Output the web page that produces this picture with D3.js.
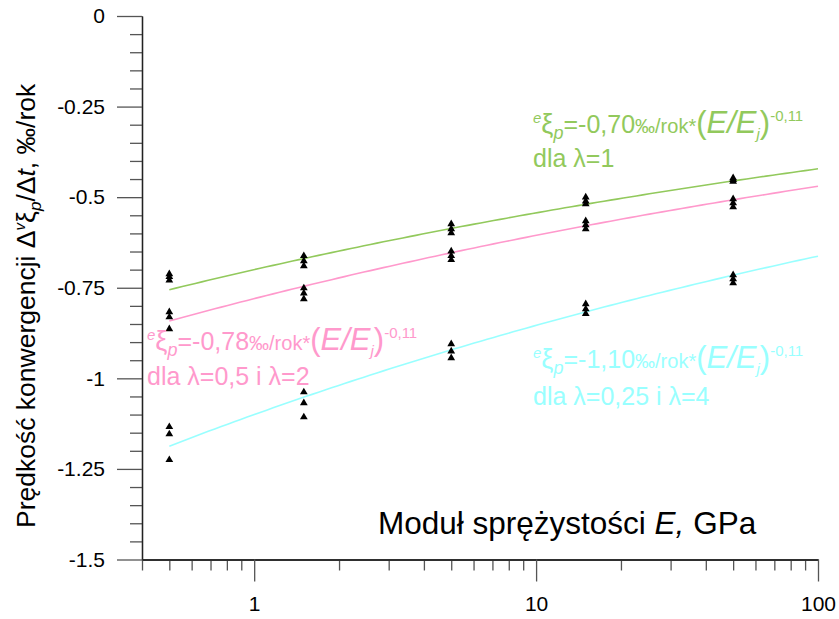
<!DOCTYPE html>
<html>
<head>
<meta charset="utf-8">
<script src="https://cdn.jsdelivr.net/npm/d3@7/dist/d3.min.js"></script>
<style>
  html, body { margin: 0; padding: 0; background: #fff; }
  svg { display: block; font-family: "Liberation Sans", Arial, sans-serif; }
</style>
</head>
<body>
<svg id="chart" width="839" height="619"></svg>
<script>
// Moduli of elasticity at which convergence rates were computed (GPa)
const modulusGPa = [0.5, 1.5, 5, 15, 50];

// Convergence rate samples, ‰/year, one inner list per modulus
const rateLambda1 = [
  [-0.712, -0.720, -0.729],
  [-0.662, -0.676, -0.690],
  [-0.574, -0.588, -0.599],
  [-0.500, -0.511, -0.519],
  [-0.447, -0.452, -0.457]
];
const rateLambda05and2 = [
  [-0.817, -0.831, -0.864],
  [-0.751, -0.765, -0.781],
  [-0.649, -0.662, -0.673],
  [-0.566, -0.577, -0.588],
  [-0.505, -0.516, -0.527]
];
const rateLambda025and4 = [
  [-1.134, -1.154, -1.225],
  [-1.038, -1.068, -1.107],
  [-0.905, -0.925, -0.944],
  [-0.795, -0.809, -0.822],
  [-0.715, -0.726, -0.737]
];

// Power-law fits: rate = coef * (E/Ej)^exp, Ej = 1 GPa
const fitCoef = [-0.70, -0.78, -1.10];
const fitExp = -0.11;
const fitRange = [0.5, 100];
const fitColors = ["#92c95c", "#ff99cc", "#99ffff"];

// Axis ticks
const yMajorTicks = [-1.5, -1.25, -1, -0.75, -0.5, -0.25, 0];
const yTickLabels = ["-1.5", "-1.25", "-1", "-0.75", "-0.5", "-0.25", "0"];
const xMajorTicks = [1, 10, 100];
const xTickLabels = ["1", "10", "100"];

const svg = d3.select("#chart");
const x = d3.scaleLog().domain([0.4, 100]).range([142, 818]);
const y = d3.scaleLinear().domain([-1.5, 0]).range([559.5, 16]);

// ---- axes ----
const yMinor = d3.range(-1.5, 0.0001, 0.05)
  .map(v => Math.round(v * 100) / 100)
  .filter(v => !yMajorTicks.includes(v));
const xMinor = [];
[0.1, 1, 10].forEach(dec => {
  for (let k = 2; k <= 9; k++) {
    const v = +(k * dec).toFixed(3);
    if (v >= 0.4 && !xMajorTicks.includes(v)) xMinor.push(v);
  }
});

function styleAxis(g) {
  g.select(".domain").attr("stroke", "#222").attr("stroke-width", 1.3);
  g.selectAll(".tick line").attr("stroke", "#555").attr("stroke-width", 1.3);
  g.selectAll(".tick text").attr("fill", "#000").attr("font-size", 21)
    .attr("font-family", "Liberation Sans, Arial, sans-serif");
}

svg.append("g").attr("transform", "translate(142,0)")
  .call(d3.axisLeft(y).tickValues(yMinor).tickSize(12).tickSizeOuter(0).tickFormat(""))
  .call(styleAxis);
svg.append("g").attr("transform", "translate(142,0)")
  .call(d3.axisLeft(y).tickValues(yMajorTicks).tickSize(25).tickSizeOuter(0).tickPadding(12)
    .tickFormat((d, i) => yTickLabels[i]))
  .call(styleAxis);

svg.append("g").attr("transform", "translate(0,559.5)")
  .call(d3.axisBottom(x).tickValues(xMinor).tickSize(11).tickSizeOuter(0).tickFormat(""))
  .call(styleAxis);
svg.append("g").attr("transform", "translate(0,559.5)")
  .call(d3.axisBottom(x).tickValues(xMajorTicks).tickSize(22).tickSizeOuter(0).tickPadding(15)
    .tickFormat((d, i) => xTickLabels[i]))
  .call(styleAxis);

// ---- fitted curves ----
const line = d3.line().x(d => x(d[0])).y(d => y(d[1]));
fitCoef.forEach((c, i) => {
  const lo = Math.log10(fitRange[0]), hi = Math.log10(fitRange[1]);
  const pts = d3.range(0, 101).map(k => {
    const e = Math.pow(10, lo + (hi - lo) * k / 100);
    return [e, c * Math.pow(e, fitExp)];
  });
  svg.append("path").datum(pts).attr("d", line)
    .attr("fill", "none").attr("stroke", fitColors[i]).attr("stroke-width", 1.6);
});

// ---- data points ----
const tri = d3.symbol().type(d3.symbolTriangle).size(26);
[rateLambda1, rateLambda05and2, rateLambda025and4].forEach(series => {
  series.forEach((vals, j) => {
    vals.forEach(v => {
      svg.append("path").attr("d", tri)
        .attr("transform", `translate(${x(modulusGPa[j])},${y(v)})`)
        .attr("fill", "#000");
    });
  });
});

// ---- rich text helper: parts with size, style and baseline shift ----
function richText(parent, px, py, parts, color) {
  const t = parent.append("text").attr("x", px).attr("y", py).attr("fill", color);
  let cur = 0;
  parts.forEach(p => {
    const sh = p.shift || 0;
    t.append("tspan")
      .attr("dy", sh - cur)
      .attr("font-size", p.size)
      .attr("font-style", p.italic ? "italic" : "normal")
      .attr("font-family", p.font || "Liberation Sans, Arial, sans-serif")
      .text(p.t);
    cur = sh;
  });
  return t;
}

function fitLabel(px, py, coefText, color) {
  richText(svg, px, py, [
    { t: "e", size: 15, italic: true, shift: -10 },
    { t: "ξ", size: 27 },
    { t: "p", size: 18, italic: true, shift: 6 },
    { t: "=", size: 25, shift: 0 },
    { t: coefText, size: 25 },
    { t: "‰/rok*", size: 20 },
    { t: "(", size: 31 },
    { t: "E/E", size: 31, italic: true },
    { t: "j", size: 15, italic: true, shift: 6 },
    { t: ")", size: 31, shift: 0 },
    { t: "-0,11", size: 15, shift: -12 }
  ], color);
}

fitLabel(533, 133, "-0,70", fitColors[0]);
svg.append("text").attr("x", 533).attr("y", 167).attr("fill", fitColors[0])
  .attr("font-size", 25).text("dla λ=1");

fitLabel(147, 350, "-0,78", fitColors[1]);
svg.append("text").attr("x", 147).attr("y", 385).attr("fill", fitColors[1])
  .attr("font-size", 25).text("dla λ=0,5 i λ=2");

fitLabel(533, 368, "-1,10", fitColors[2]);
svg.append("text").attr("x", 533).attr("y", 405).attr("fill", fitColors[2])
  .attr("font-size", 25).text("dla λ=0,25 i λ=4");

// ---- axis titles ----
richText(svg, 378, 534, [
  { t: "Moduł sprężystości ", size: 31.5 },
  { t: "E,", size: 31.5, italic: true },
  { t: " GPa", size: 31.5 }
], "#000");

const yTitle = svg.append("g").attr("transform", "translate(35,528) rotate(-90)");
richText(yTitle, 0, 0, [
  { t: "Prędkość konwergencji Δ", size: 26.5 },
  { t: "v", size: 15, italic: true, shift: -10 },
  { t: "ξ", size: 26.5, shift: 0 },
  { t: "p", size: 17, italic: true, shift: 6 },
  { t: "/Δ", size: 26.5, shift: 0 },
  { t: "t", size: 26.5, italic: true },
  { t: ", ‰/rok", size: 26.5 }
], "#000");
</script>
</body>
</html>
